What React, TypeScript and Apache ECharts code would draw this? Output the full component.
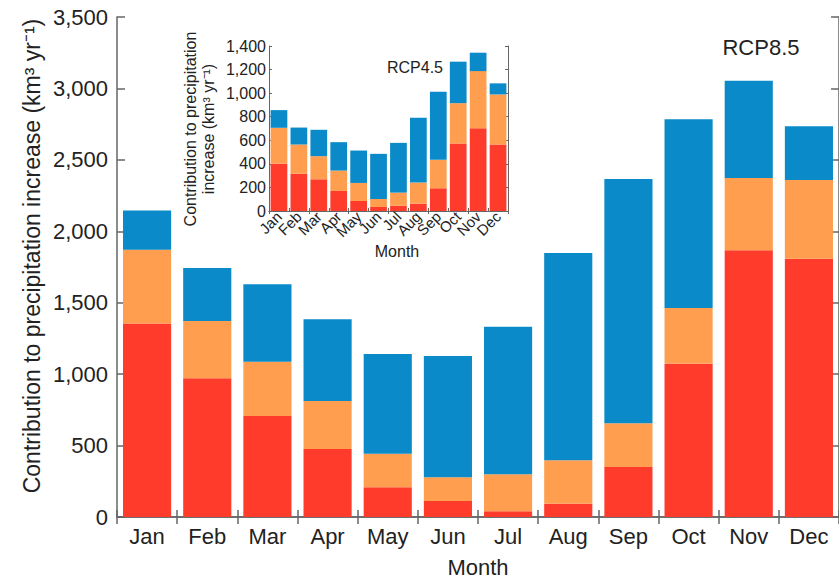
import React, { useEffect, useRef } from "react";
import * as echarts from "echarts";

const months = ["Jan", "Feb", "Mar", "Apr", "May", "Jun", "Jul", "Aug", "Sep", "Oct", "Nov", "Dec"];

// RCP8.5 (main) stacked contributions, km3/yr
const mainRed = [1355, 971, 707, 476, 208, 112, 40, 93, 350, 1073, 1867, 1808];
const mainOrange = [515, 401, 380, 336, 235, 166, 259, 304, 306, 390, 506, 551];
const mainBlue = [275, 371, 542, 572, 698, 849, 1033, 1451, 1710, 1321, 681, 376];

// RCP4.5 (inset) stacked contributions, km3/yr
const insetRed = [402, 317, 269, 170, 85, 34, 45, 62, 193, 572, 703, 564];
const insetOrange = [304, 247, 196, 173, 153, 68, 111, 179, 241, 343, 484, 425];
const insetBlue = [150, 144, 224, 241, 275, 383, 422, 550, 578, 352, 156, 94];

const mainTicks = { min: 0, max: 3500, interval: 500 };
const insetTicks = { min: 0, max: 1400, interval: 200 };

const RED = "#FF3B2B";
const ORANGE = "#FF9E4F";
const BLUE = "#0A8AC8";
const FONT = "Liberation Sans, Arial, sans-serif";
const TXT = "#222";
const FRAME = "#666";

const fmt = (v: number) => v.toLocaleString("en-US");

export default function App() {
  const ref = useRef<HTMLDivElement>(null);
  useEffect(() => {
    if (!ref.current) return;
    const chart = echarts.init(ref.current, undefined, { renderer: "svg" });
    const line = { show: true, lineStyle: { color: FRAME, width: 1.5 } };
    const mainTick = (len: number) => ({ show: true, inside: true, length: len, lineStyle: { color: FRAME, width: 1.5 } });
    const insetTick = { show: true, inside: true, length: 3, lineStyle: { color: FRAME, width: 1 } };
    const insetLine = { show: true, lineStyle: { color: FRAME, width: 1 } };
    const bar = (name: string, data: number[], color: string, inset: boolean) => ({
      type: "bar",
      name,
      data,
      stack: inset ? "inset" : "main",
      xAxisIndex: inset ? 2 : 0,
      yAxisIndex: inset ? 2 : 0,
      barCategoryGap: inset ? "16%" : "20%",
      itemStyle: { color },
    });
    chart.setOption({
      animation: false,
      textStyle: { fontFamily: FONT },
      grid: [
        { left: 117, top: 17, width: 723, height: 500 },
        { left: 269, top: 46, width: 239, height: 165 },
      ],
      xAxis: [
        {
          type: "category", gridIndex: 0, data: months, position: "bottom",
          axisLine: line, axisTick: mainTick(7),
          axisLabel: { fontSize: 22, color: TXT, margin: 8, fontFamily: FONT },
        },
        {
          type: "category", gridIndex: 0, data: months, position: "top",
          axisLine: line, axisTick: mainTick(7), axisLabel: { show: false },
        },
        {
          type: "category", gridIndex: 1, data: months, position: "bottom",
          axisLine: insetLine, axisTick: insetTick,
          axisLabel: { fontSize: 15, color: TXT, margin: 3, rotate: 45, interval: 0, fontFamily: FONT },
        },
        {
          type: "category", gridIndex: 1, data: months, position: "top",
          axisLine: insetLine, axisTick: insetTick, axisLabel: { show: false },
        },
      ],
      yAxis: [
        {
          type: "value", gridIndex: 0, ...mainTicks, position: "left",
          axisLine: line, axisTick: mainTick(8), splitLine: { show: false },
          axisLabel: { fontSize: 22, color: TXT, margin: 9, formatter: fmt, fontFamily: FONT },
        },
        {
          type: "value", gridIndex: 0, ...mainTicks, position: "right",
          axisLine: line, axisTick: mainTick(8), splitLine: { show: false }, axisLabel: { show: false },
        },
        {
          type: "value", gridIndex: 1, ...insetTicks, position: "left",
          axisLine: insetLine, axisTick: insetTick, splitLine: { show: false },
          axisLabel: { fontSize: 16, color: TXT, margin: 3, formatter: fmt, fontFamily: FONT },
        },
        {
          type: "value", gridIndex: 1, ...insetTicks, position: "right",
          axisLine: insetLine, axisTick: insetTick, splitLine: { show: false }, axisLabel: { show: false },
        },
      ],
      series: [
        bar("Red", mainRed, RED, false),
        bar("Orange", mainOrange, ORANGE, false),
        bar("Blue", mainBlue, BLUE, false),
        bar("Red 4.5", insetRed, RED, true),
        bar("Orange 4.5", insetOrange, ORANGE, true),
        bar("Blue 4.5", insetBlue, BLUE, true),
      ],
      graphic: [
        {
          type: "text", x: 32, y: 256, rotation: Math.PI / 2,
          style: { text: "Contribution to precipitation increase (km³ yr⁻¹)", font: `23px ${FONT}`, fill: TXT, align: "center", verticalAlign: "middle" },
        },
        {
          type: "text", x: 478, y: 567,
          style: { text: "Month", font: `22px ${FONT}`, fill: TXT, align: "center", verticalAlign: "middle" },
        },
        {
          type: "text", x: 761, y: 47,
          style: { text: "RCP8.5", font: `22px ${FONT}`, fill: TXT, align: "center", verticalAlign: "middle" },
        },
        {
          type: "text", x: 199, y: 129, rotation: Math.PI / 2,
          style: { text: "Contribution to precipitation\nincrease (km³ yr⁻¹)", font: `16px ${FONT}`, lineHeight: 18, fill: TXT, align: "center", verticalAlign: "middle" },
        },
        {
          type: "text", x: 415, y: 67,
          style: { text: "RCP4.5", font: `16px ${FONT}`, fill: TXT, align: "center", verticalAlign: "middle" },
        },
        {
          type: "text", x: 397, y: 251,
          style: { text: "Month", font: `16px ${FONT}`, fill: TXT, align: "center", verticalAlign: "middle" },
        },
      ],
    });
    return () => chart.dispose();
  }, []);
  return <div ref={ref} style={{ position: "absolute", left: 0, top: 0, width: 839, height: 579 }} />;
}
